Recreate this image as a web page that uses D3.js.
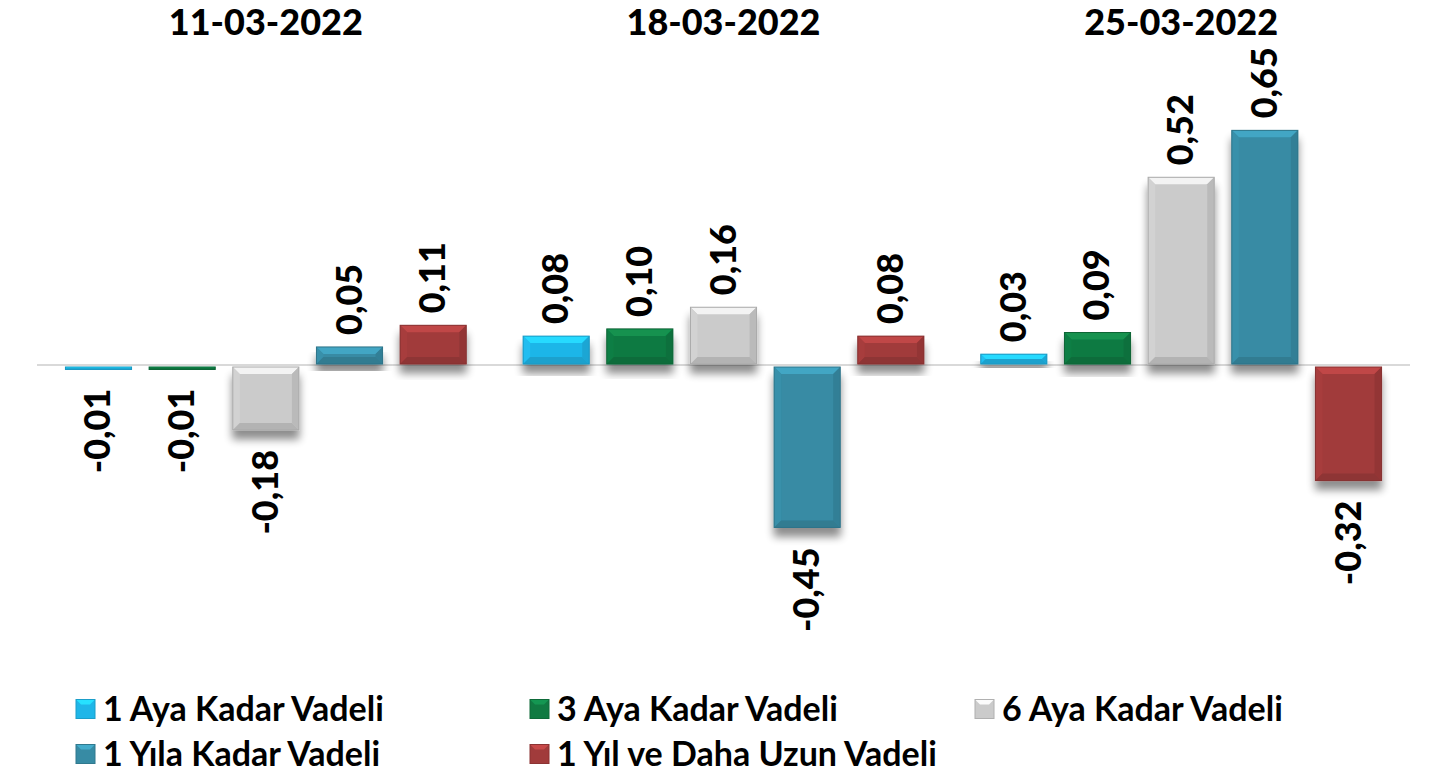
<!DOCTYPE html>
<html>
<head>
<meta charset="utf-8">
<script src="https://cdn.jsdelivr.net/npm/d3@7"></script>
<style>
  body { margin: 0; background: #fff; }
  .chart { width: 1435px; height: 784px; }
  text { font-family: Lato, "Open Sans", sans-serif; font-weight: 700; fill: #000; }
</style>
</head>
<body>
<div class="chart"></div>
<script>
// dates (groups), series and values
const dates = ["11-03-2022", "18-03-2022", "25-03-2022"];
const seriesNames = ["1 Aya Kadar Vadeli", "3 Aya Kadar Vadeli", "6 Aya Kadar Vadeli", "1 Yıla Kadar Vadeli", "1 Yıl ve Daha Uzun Vadeli"];
const seriesColors = ["#1fb6e8", "#107a42", "#cbcbcb", "#378ba4", "#a13b3b"];
const values = [
    [-0.01, -0.01, -0.18, 0.05, 0.11],
    [0.08, 0.10, 0.16, -0.45, 0.08],
    [0.03, 0.09, 0.52, 0.65, -0.32]
];

function init() {
    let width = 1435, height = 784;
    let svg = d3.select(".chart").append("svg")
        .attr("width", width)
        .attr("height", height);

    let defs = svg.append("defs");
    let f = defs.append("filter").attr("id", "shadow")
        .attr("x", "-20%").attr("y", "-20%").attr("width", "140%").attr("height", "160%");
    f.append("feGaussianBlur").attr("in", "SourceAlpha").attr("stdDeviation", 4).attr("result", "b");
    f.append("feOffset").attr("in", "b").attr("dx", 0).attr("dy", 9).attr("result", "o");
    f.append("feComponentTransfer").attr("in", "o").attr("result", "s")
        .append("feFuncA").attr("type", "linear").attr("slope", 0.45);
    let m = f.append("feMerge");
    m.append("feMergeNode").attr("in", "s");
    m.append("feMergeNode").attr("in", "SourceGraphic");

    // scales
    let x0 = d3.scaleBand().domain(dates).range([37, 1410]);
    let x1 = d3.scaleBand().domain(seriesNames).range([0, x0.bandwidth()])
        .paddingInner(0.21).paddingOuter(0.34);
    let yScale = d3.scaleLinear().domain([-0.8, 0.8]).range([365 + 0.8 * 361, 365 - 0.8 * 361]);
    let color = d3.scaleOrdinal().domain(seriesNames).range(seriesColors);

    let fmt = v => v.toFixed(2).replace(".", ",");

    // zero line
    svg.append("line")
        .attr("x1", x0.range()[0]).attr("x2", x0.range()[1])
        .attr("y1", yScale(0)).attr("y2", yScale(0))
        .attr("stroke", "#d9d9d9").attr("stroke-width", 2);

    // group titles
    svg.selectAll(".title").data(dates).enter().append("text")
        .attr("class", "title")
        .attr("x", d => x0(d) + x0.bandwidth() / 2)
        .attr("y", 35)
        .attr("text-anchor", "middle")
        .style("font-size", "36px")
        .style("font-weight", 900)
        .text(d => d);

    let groups = svg.selectAll(".group").data(dates).enter().append("g")
        .attr("class", "group")
        .attr("transform", d => `translate(${x0(d)},0)`);

    let bars = groups.selectAll(".bar")
        .data((d, i) => seriesNames.map((s, j) => ({ s: s, v: values[i][j] })))
        .enter().append("g").attr("class", "bar");

    // bevelled bar
    bars.each(function (d) {
        let g = d3.select(this).append("g").attr("filter", "url(#shadow)");
        let bx = x1(d.s), bw = x1.bandwidth();
        let y0 = d.v >= 0 ? yScale(d.v) : yScale(0) + 2;
        let y1 = d.v >= 0 ? yScale(0) - 1 : yScale(d.v);
        let bh = Math.max(y1 - y0, 2.5);
        let c = d3.color(color(d.s));
        let bev = Math.min(7, bh / 2);
        g.append("rect")
            .attr("x", bx).attr("y", y0).attr("width", bw).attr("height", bh)
            .attr("fill", c.formatHex());
        // top
        g.append("path")
            .attr("d", `M${bx},${y0}L${bx + bw},${y0}L${bx + bw - bev},${y0 + bev}L${bx + bev},${y0 + bev}Z`)
            .attr("fill", c.brighter(0.5).formatHex());
        // sides
        g.append("path")
            .attr("d", `M${bx},${y0}L${bx + bev},${y0 + bev}L${bx + bev},${y0 + bh - bev}L${bx},${y0 + bh}Z`)
            .attr("fill", c.brighter(0.1).formatHex());
        g.append("path")
            .attr("d", `M${bx + bw},${y0}L${bx + bw - bev},${y0 + bev}L${bx + bw - bev},${y0 + bh - bev}L${bx + bw},${y0 + bh}Z`)
            .attr("fill", c.darker(0.25).formatHex());
        // bottom
        g.append("path")
            .attr("d", `M${bx},${y0 + bh}L${bx + bw},${y0 + bh}L${bx + bw - bev},${y0 + bh - bev}L${bx + bev},${y0 + bh - bev}Z`)
            .attr("fill", c.darker(0.35).formatHex());
        g.append("rect")
            .attr("x", bx).attr("y", y0).attr("width", bw).attr("height", bh)
            .attr("fill", "none").attr("stroke", c.darker(0.5).formatHex()).attr("stroke-width", 1);
    });

    // value labels, rotated
    bars.append("text")
        .attr("transform", d => {
            let cx = x1(d.s) + x1.bandwidth() / 2 + 12;
            let ty = d.v >= 0 ? yScale(d.v) - 12 : yScale(d.v) + 20;
            return `translate(${cx},${ty}) rotate(-90)`;
        })
        .attr("text-anchor", d => d.v >= 0 ? "start" : "end")
        .style("font-size", "36px")
        .style("font-weight", 900)
        .text(d => fmt(d.v));

    // legend
    let legX = [76, 530, 975];
    let legY = [709, 754];
    let legend = svg.selectAll(".legend").data(seriesNames).enter().append("g")
        .attr("class", "legend")
        .attr("transform", (d, i) => `translate(${legX[i % 3]},${legY[Math.floor(i / 3)]})`);
    legend.each(function (d) {
        let g = d3.select(this);
        let c = d3.color(color(d));
        let s = 19, b = 5;
        g.append("rect").attr("x", 0).attr("y", -s / 2).attr("width", s).attr("height", s)
            .attr("fill", c.formatHex());
        g.append("path")
            .attr("d", `M0,${-s / 2}L${s},${-s / 2}L${s - b},${-s / 2 + b}L${b},${-s / 2 + b}Z`)
            .attr("fill", c.brighter(0.6).formatHex());
        g.append("rect").attr("x", 0).attr("y", -s / 2).attr("width", s).attr("height", s)
            .attr("fill", "none").attr("stroke", c.darker(0.4).formatHex()).attr("stroke-width", 1);
    });
    legend.append("text")
        .attr("x", 27)
        .attr("y", 12)
        .style("font-size", "34px")
        .text(d => d);
}

init();
</script>
</body>
</html>
